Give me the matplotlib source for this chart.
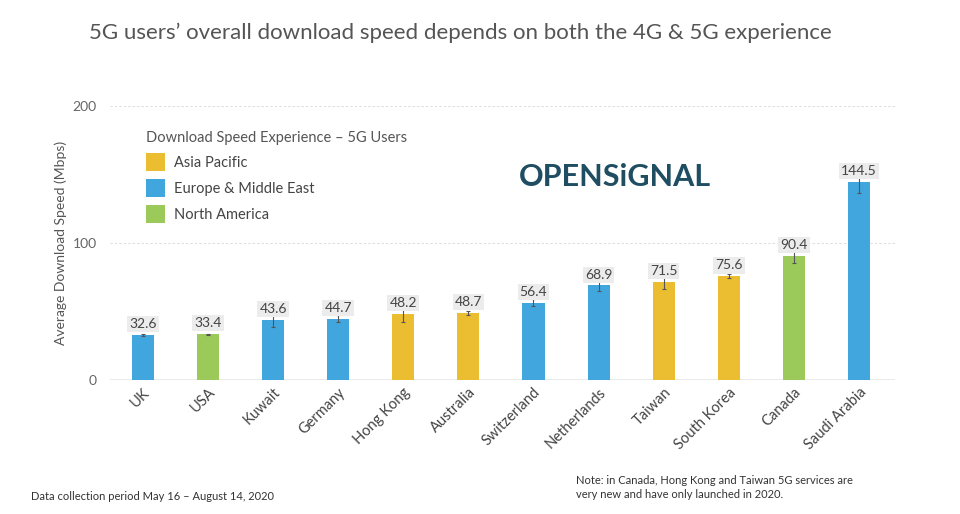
import matplotlib.pyplot as plt
from matplotlib.patches import Patch

plt.rcParams["font.family"] = ["Lato", "DejaVu Sans"]

countries = ["UK", "USA", "Kuwait", "Germany", "Hong Kong", "Australia",
             "Switzerland", "Netherlands", "Taiwan", "South Korea", "Canada",
             "Saudi Arabia"]
speeds = [32.6, 33.4, 43.6, 44.7, 48.2, 48.7, 56.4, 68.9, 71.5, 75.6, 90.4, 144.5]
errors = [0.6, 0.4, 5.0, 2.6, 6.0, 1.5, 2.7, 4.2, 5.2, 1.5, 5.0, 8.2]
regions = ["Europe & Middle East", "North America", "Europe & Middle East",
           "Europe & Middle East", "Asia Pacific", "Asia Pacific",
           "Europe & Middle East", "Europe & Middle East", "Asia Pacific",
           "Asia Pacific", "North America", "Europe & Middle East"]
region_colors = {
    "Asia Pacific": "#ebbd30",
    "Europe & Middle East": "#40a6dd",
    "North America": "#9bc95a",
}

fig = plt.figure(figsize=(9.6, 5.14), dpi=100)
ax = fig.add_axes([0.115, 0.261, 0.817, 0.533])

x = range(len(countries))
bar_colors = [region_colors[r] for r in regions]
ax.bar(x, speeds, width=0.34, color=bar_colors, zorder=2)
ax.errorbar(x, speeds, yerr=errors, fmt="none", ecolor="#555555",
            elinewidth=0.8, capsize=1.5, capthick=0.8, zorder=3)

for xi, v in zip(x, speeds):
    ax.text(xi, v + 3.5, f"{v:.1f}", ha="center", va="bottom", fontsize=10,
            color="#444444", zorder=4,
            bbox={"facecolor": "#ececec", "edgecolor": "none", "pad": 1.5})

ax.set_ylim(0, 200)
ax.set_xlim(-0.5, 11.55)
ax.set_yticks([0, 100, 200])
ax.tick_params(axis="y", length=0, labelsize=10, labelcolor="#666666", pad=10)
ax.tick_params(axis="x", length=0, labelsize=10.5, labelcolor="#444444", pad=4)
ax.set_xticks(list(x))
ax.set_xticklabels(countries, rotation=45, ha="right", rotation_mode="anchor")
for g in [100, 200]:
    ax.axhline(g, color="#dddddd", linestyle=(0, (2, 2)), linewidth=0.8, zorder=1)
ax.axhline(0, color="#e6e6e6", linewidth=1.2, zorder=1)
for s in ax.spines.values():
    s.set_visible(False)

ax.set_ylabel("Average Download Speed (Mbps)", fontsize=10, color="#555555",
              labelpad=4)

handles = [Patch(facecolor=c, label=r) for r, c in region_colors.items()]
leg = ax.legend(handles=handles, title="Download Speed Experience \u2013 5G Users",
                loc="upper left", bbox_to_anchor=(0.031, 0.95), frameon=False,
                fontsize=10.5, title_fontsize=10.5, alignment="left",
                handlelength=1.3, handleheight=1.6, handletextpad=0.6,
                labelspacing=0.5, borderpad=0.3)
leg.get_title().set_color("#555555")
for t in leg.get_texts():
    t.set_color("#444444")

fig.text(0.54, 0.655, "OPENSiGNAL", fontsize=22, fontweight="bold",
         color="#1f4d62", ha="left", va="center")

fig.text(0.48, 0.937, "5G users\u2019 overall download speed depends on both the 4G & 5G experience",
         ha="center", va="center", fontsize=16, color="#555555")

fig.text(0.032, 0.035, "Data collection period May 16 \u2013 August 14, 2020",
         fontsize=8, color="#333333", ha="left", va="center")
fig.text(0.6, 0.052, "Note: in Canada, Hong Kong and Taiwan 5G services are\nvery new and have only launched in 2020.",
         fontsize=8, color="#333333", ha="left", va="center", linespacing=1.3)

fig.savefig("out.png", dpi=100, facecolor="white")
